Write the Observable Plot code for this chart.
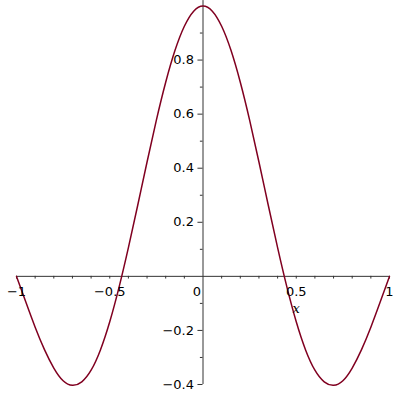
<!DOCTYPE html>
<html><head><meta charset="utf-8">
<script src="https://cdn.jsdelivr.net/npm/d3@7"></script>
<script src="https://cdn.jsdelivr.net/npm/@observablehq/plot@0.6"></script>
<style>body{margin:0;background:#fff}</style>
</head><body><div id="chart"></div>
<script>
const xs = [-1.00,-0.95,-0.90,-0.85,-0.80,-0.75,-0.70,-0.65,-0.60,-0.55,-0.50,-0.45,-0.40,-0.35,-0.30,-0.25,-0.20,-0.15,-0.10,-0.05,
            0.00,0.05,0.10,0.15,0.20,0.25,0.30,0.35,0.40,0.45,0.50,0.55,0.60,0.65,0.70,0.75,0.80,0.85,0.90,0.95,1.00];
const ys = [0.000,-0.095,-0.188,-0.271,-0.339,-0.386,-0.403,-0.390,-0.347,-0.272,-0.168,-0.040,0.106,0.263,0.423,0.578,0.718,0.836,0.925,0.981,
            1.000,0.981,0.925,0.836,0.718,0.578,0.423,0.263,0.106,-0.040,-0.168,-0.272,-0.347,-0.390,-0.403,-0.386,-0.339,-0.271,-0.188,-0.095,0.000];
const xTickLabels = [-1,-0.5,0.5,1];
const xTicks = [-1,-0.9,-0.8,-0.7,-0.6,-0.5,-0.4,-0.3,-0.2,-0.1,0.1,0.2,0.3,0.4,0.5,0.6,0.7,0.8,0.9,1];
const yTickLabels = [-0.4,-0.2,0.2,0.4,0.6,0.8];
const yMinorTicks = [-0.3,-0.1,0.1,0.3,0.5,0.7,0.9];
const originLabel = ["0"];
const axisTitle = ["x"];

const data = xs.map((x, i) => ({x, y: ys[i]}));
const fmt = d => String(d).replace("-", "\u2212");
const axisColor = "#333";

const chart = Plot.plot({
  width: 400, height: 400,
  marginLeft: 16, marginRight: 11, marginTop: 5.5, marginBottom: 16,
  style: {fontFamily: "DejaVu Sans", fontSize: "13px", background: "#fff", color: "#000"},
  x: {domain: [-1, 1], axis: null},
  y: {domain: [-0.4, 1], axis: null},
  marks: [
    Plot.ruleY([0], {x1: -1, x2: 1, stroke: axisColor}),
    Plot.ruleX([0], {y1: -0.4, y2: 1.02, stroke: axisColor}),
    Plot.ruleX(xTicks, {x: d => d, y1: 0, y2: -0.01, stroke: axisColor}),
    Plot.ruleY(yTickLabels, {y: d => d, x1: -0.027, x2: 0, stroke: axisColor}),
    Plot.ruleY(yMinorTicks, {y: d => d, x1: -0.014, x2: 0, stroke: axisColor}),
    Plot.line(data, {x: "x", y: "y", curve: "natural", stroke: "#800020", strokeWidth: 1.5}),
    Plot.text(xTickLabels, {x: d => d, y: 0, dy: 15, text: fmt, fill: "#000"}),
    Plot.text(originLabel, {x: 0, y: 0, dy: 15, dx: -6, text: d => d, fill: "#000"}),
    Plot.text(yTickLabels, {x: 0, y: d => d, dx: -9, textAnchor: "end", text: fmt, fill: "#000"}),
    Plot.text(axisTitle, {x: 0.5, y: 0, dy: 32.5, text: d => d, fill: "#000",
      fontFamily: "DejaVu Serif", fontStyle: "italic", fontSize: 13})
  ]
});
document.getElementById("chart").appendChild(chart);
</script>
</body></html>
